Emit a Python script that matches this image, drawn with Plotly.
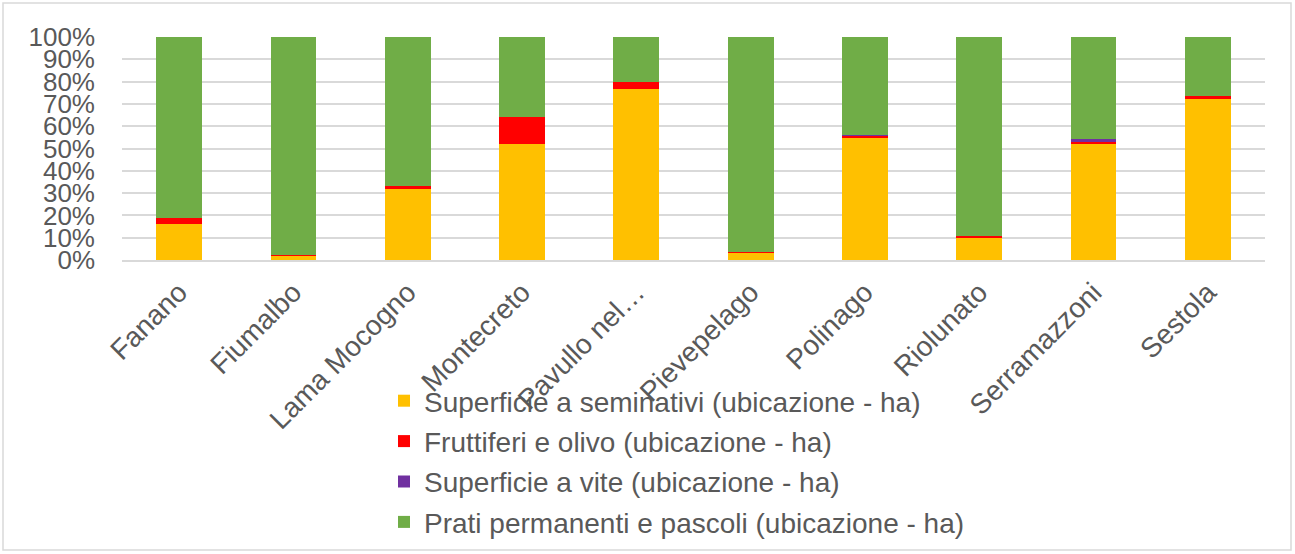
import plotly.graph_objects as go

categories = ["Fanano", "Fiumalbo", "Lama Mocogno", "Montecreto", "Pavullo nel…",
              "Pievepelago", "Polinago", "Riolunato", "Serramazzoni", "Sestola"]
seminativi = [16.2, 2.2, 31.7, 52.1, 76.7, 3.5, 55.1, 10.2, 51.8, 72.2]
fruttiferi = [2.8, 0.2, 1.5, 12.2, 3.1, 0.3, 0.8, 0.6, 1.3, 1.2]
vite = [0.0, 0.0, 0.0, 0.0, 0.0, 0.0, 0.3, 0.0, 1.1, 0.0]
prati = [81.0, 97.6, 66.8, 35.7, 20.2, 96.2, 43.8, 89.2, 45.8, 26.6]

series = [
    ("Superficie a seminativi (ubicazione - ha)", seminativi, "#FFC000"),
    ("Fruttiferi e olivo (ubicazione - ha)", fruttiferi, "#FF0000"),
    ("Superficie a vite (ubicazione - ha)", vite, "#7030A0"),
    ("Prati permanenti e pascoli (ubicazione - ha)", prati, "#70AD47"),
]

fig = go.Figure()
for i, (name, vals, col) in enumerate(series):
    fig.add_trace(go.Bar(x=categories, y=vals, name=name, marker_color=col,
                         marker_line_width=0, legendgroup=f"g{i}"))

W, H = 1295, 554
ml, mr, mt, mb = 122, 30, 37, 294
pw, ph = W - ml - mr, H - mt - mb

fig.update_layout(
    width=W, height=H,
    barmode="stack", barnorm="percent", bargap=0.6,
    margin=dict(l=ml, r=mr, t=mt, b=mb, autoexpand=False),
    plot_bgcolor="white", paper_bgcolor="white",
    font=dict(family="Liberation Sans, Arial", size=26, color="#595959"),
    xaxis=dict(tickangle=-45, showgrid=False, showline=True, linecolor="#d9d9d9",
               linewidth=1.5, ticks="", tickfont=dict(size=28), automargin=False,
               ticklabelstandoff=3),
    yaxis=dict(range=[0, 100], tickvals=list(range(0, 101, 10)),
               ticktext=[f"{v}%" for v in range(0, 101, 10)],
               gridcolor="#d9d9d9", gridwidth=1.5, zeroline=False,
               tickfont=dict(size=26), ticks="", automargin=False,
               ticklabelstandoff=26),
    legend=dict(orientation="v", x=(384 - ml) / pw, xanchor="left",
                y=(ph - (376 - mt)) / ph, yanchor="top",
                font=dict(size=28, color="#595959"), traceorder="grouped",
                tracegroupgap=1, itemwidth=30, bgcolor="rgba(0,0,0,0)"),
    showlegend=True,
)
fig.add_shape(type="rect", xref="paper", yref="paper",
              x0=(3 - ml) / pw, x1=(W - 4 - ml) / pw,
              y0=-(H - 4 - mt - ph) / ph, y1=(ph + mt - 3) / ph,
              line=dict(color="#d9d9d9", width=1.5), layer="below")
fig.write_html("out.html", config={"displayModeBar": False},
               post_script="document.body.style.margin='0px';document.body.style.overflow='hidden';")
